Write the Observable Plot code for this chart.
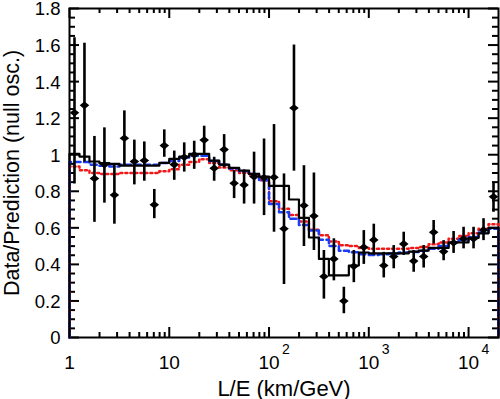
<!DOCTYPE html>
<html>
<head>
<meta charset="utf-8">
<script src="https://cdn.jsdelivr.net/npm/d3@7"></script>
<script src="https://cdn.jsdelivr.net/npm/@observablehq/plot@0.6"></script>
<style>
  html, body { margin: 0; padding: 0; background: #fff; }
  svg { display: block; }
</style>
</head>
<body>
<div id="chart"></div>
<script>
// ---- data ----
// bin centres, log10(L/E)
const logCenters = [0.05,0.15,0.25,0.35,0.45,0.55,0.65,0.75,0.85,0.95,
  1.05,1.15,1.25,1.35,1.45,1.55,1.65,1.75,1.85,1.95,
  2.05,2.15,2.25,2.35,2.45,2.55,2.65,2.75,2.85,2.95,
  3.05,3.15,3.25,3.35,3.45,3.55,3.65,3.75,3.85,3.95,
  4.05,4.15,4.25];
const binHalfWidth = 0.05;
const dataRatio = [1.23,1.27,0.87,0.946,0.78,1.09,0.963,0.968,0.726,1.05,
  0.946,0.986,1.0,1.08,0.926,1.028,0.844,0.835,0.88,0.874,
  0.877,0.595,1.256,0.722,0.665,0.334,0.43,0.20,0.39,0.494,
  0.534,0.394,0.443,0.512,0.418,0.443,0.576,0.47,0.518,0.54,
  0.54,0.588,0.77];
const errLow = [0.84,0.96,0.63,0.735,0.62,0.94,0.835,0.855,0.65,0.986,
  0.86,0.905,0.92,1.0,0.855,0.928,0.76,0.73,0.73,0.667,
  0.576,0.29,0.91,0.498,0.476,0.21,0.31,0.13,0.30,0.40,
  0.449,0.326,0.376,0.449,0.357,0.38,0.512,0.42,0.46,0.485,
  0.485,0.53,0.685];
const errHigh = [1.64,1.61,1.10,1.147,0.946,1.24,1.08,1.07,0.81,1.136,
  1.02,1.065,1.074,1.156,0.986,1.11,0.913,0.917,1.014,1.086,
  1.165,0.895,1.60,0.94,0.90,0.476,0.54,0.275,0.476,0.585,
  0.62,0.466,0.503,0.576,0.476,0.503,0.64,0.53,0.58,0.603,
  0.603,0.65,0.85];
// predictions (histograms)
const oscillation = [1.005,0.99,0.963,0.954,0.95,0.94,0.94,0.94,0.94,0.955,
  0.977,0.99,1.005,1.005,0.968,0.946,0.928,0.913,0.895,0.88,
  0.83,0.83,0.755,0.655,0.547,0.43,0.34,0.34,0.394,0.465,
  0.46,0.46,0.46,0.46,0.47,0.475,0.49,0.49,0.52,0.52,
  0.545,0.57,0.6];
const decay = [0.96,0.96,0.945,0.94,0.935,0.945,0.945,0.945,0.945,0.955,
  0.965,0.985,0.995,0.995,0.965,0.945,0.925,0.91,0.895,0.86,
  0.73,0.685,0.65,0.615,0.585,0.535,0.50,0.475,0.466,0.455,
  0.452,0.455,0.46,0.465,0.468,0.475,0.485,0.50,0.52,0.535,
  0.55,0.575,0.595];
const decoherence = [0.935,0.915,0.9,0.895,0.895,0.9,0.9,0.9,0.9,0.91,
  0.92,0.945,0.96,0.975,0.955,0.93,0.915,0.9,0.885,0.86,
  0.745,0.705,0.67,0.635,0.59,0.56,0.525,0.505,0.5,0.49,
  0.485,0.485,0.485,0.485,0.49,0.495,0.51,0.52,0.54,0.555,
  0.57,0.595,0.62];
// axes
const xDomain = [1, 19953];
const xMajor = [1, 10, 100, 1000, 10000];
const xMajorLabels = ["1", "10", "10", "10", "10"];
const xExpTicks = [100, 1000, 10000];
const xExpLabels = ["2", "3", "4"];
const xMinor = [2,3,4,5,6,7,8,9,20,30,40,50,60,70,80,90,200,300,400,500,600,700,800,900,
  2000,3000,4000,5000,6000,7000,8000,9000];
const yMajor = [0,0.2,0.4,0.6,0.8,1,1.2,1.4,1.6,1.8];
const yMajorLabels = ["0","0.2","0.4","0.6","0.8","1","1.2","1.4","1.6","1.8"];
const yMinor = [0.05,0.1,0.15,0.25,0.3,0.35,0.45,0.5,0.55,0.65,0.7,0.75,0.85,0.9,0.95,
  1.05,1.1,1.15,1.25,1.3,1.35,1.45,1.5,1.55,1.65,1.7,1.75];
const xTitle = "L/E (km/GeV)";
const yTitle = "Data/Prediction (null osc.)";

// ---- tables ----
const points = logCenters.map((c, i) => ({x: 10 ** c, y: dataRatio[i], lo: errLow[i], hi: errHigh[i]}));
function stepTable(values) {
  const t = [{x: 10 ** (logCenters[0] - binHalfWidth), y: 0}];
  values.forEach((v, i) => {
    t.push({x: 10 ** (logCenters[i] - binHalfWidth), y: v});
    t.push({x: 10 ** (logCenters[i] + binHalfWidth), y: v});
  });
  t.push({x: 10 ** (logCenters[logCenters.length - 1] + binHalfWidth), y: 0});
  return t;
}
const xLabelTable = xMajor.map((v, i) => ({v, label: xMajorLabels[i]}));
const xExpTable = xExpTicks.map((v, i) => ({v, label: xExpLabels[i]}));
const yLabelTable = yMajor.map((v, i) => ({v, label: yMajorLabels[i]}));

const W = 500, H = 399;
const mL = 69, mR = 2, mT = 8, mB = 62;
const fw = W - mL - mR, fh = H - mT - mB;
const majLen = 10, minLen = 5;
const font = "'Liberation Sans', Arial, Helvetica, sans-serif";

const wideDiamond = {
  draw(ctx, size) {
    const r = Math.sqrt(size / Math.PI);
    const w = r * 1.2, h = r * 0.95;
    ctx.moveTo(0, -h); ctx.lineTo(w, 0); ctx.lineTo(0, h); ctx.lineTo(-w, 0); ctx.closePath();
  }
};

const chart = Plot.plot({
  width: W, height: H,
  marginLeft: mL, marginRight: mR, marginTop: mT, marginBottom: mB,
  style: {fontFamily: font, background: "#fff", overflow: "visible"},
  x: {type: "log", domain: xDomain, axis: null},
  y: {domain: [0, 1.8], axis: null},
  marks: [
    // ticks (inward, all four sides)
    Plot.tickX(xMajor, {x: d => d, insetTop: fh - majLen, strokeWidth: 2}),
    Plot.tickX(xMinor, {x: d => d, insetTop: fh - minLen, strokeWidth: 2}),
    Plot.tickX(xMajor, {x: d => d, insetBottom: fh - majLen, strokeWidth: 2}),
    Plot.tickX(xMinor, {x: d => d, insetBottom: fh - minLen, strokeWidth: 2}),
    Plot.tickY(yMajor, {y: d => d, insetRight: fw - majLen, strokeWidth: 2}),
    Plot.tickY(yMinor, {y: d => d, insetRight: fw - 6, strokeWidth: 2}),
    Plot.tickY(yMajor, {y: d => d, insetLeft: fw - majLen, strokeWidth: 2}),
    Plot.tickY(yMinor, {y: d => d, insetLeft: fw - 6, strokeWidth: 2}),
    Plot.frame({strokeWidth: 2}),
    // tick labels
    Plot.text(yLabelTable, {y: "v", text: "label", frameAnchor: "left", textAnchor: "end",
      lineAnchor: "middle", dx: -9, dy: 1, fontSize: 18.5}),
    Plot.text(xLabelTable, {x: "v", text: "label", frameAnchor: "bottom", textAnchor: "middle",
      lineAnchor: "top", dy: 18, fontSize: 19}),
    Plot.text(xExpTable, {x: "v", text: "label", frameAnchor: "bottom",
      textAnchor: "start", lineAnchor: "top", dx: 13, dy: 7, fontSize: 14}),
    // axis titles
    Plot.text([xTitle], {text: d => d, frameAnchor: "bottom", textAnchor: "middle", lineAnchor: "bottom", dy: 58, fontSize: 22}),
    Plot.text([yTitle], {text: d => d, frameAnchor: "left", textAnchor: "middle", lineAnchor: "bottom", rotate: -90, dx: -51, fontSize: 21.5}),
    // predictions
    Plot.line(stepTable(decoherence), {x: "x", y: "y", stroke: "#f21818", strokeWidth: 2.5, strokeDasharray: "2,3"}),
    Plot.line(stepTable(decay), {x: "x", y: "y", stroke: "#1b3cf2", strokeWidth: 2.5, strokeDasharray: "6,3.5"}),
    Plot.line(stepTable(oscillation), {x: "x", y: "y", stroke: "#000", strokeWidth: 2.2}),
    // data
    Plot.ruleX(points, {x: "x", y1: "lo", y2: "hi", stroke: "#000", strokeWidth: 2.6}),
    Plot.dot(points, {x: "x", y: "y", symbol: wideDiamond, r: 4, fill: "#000", stroke: "none"})
  ]
});
document.getElementById("chart").appendChild(chart);
</script>
</body>
</html>
